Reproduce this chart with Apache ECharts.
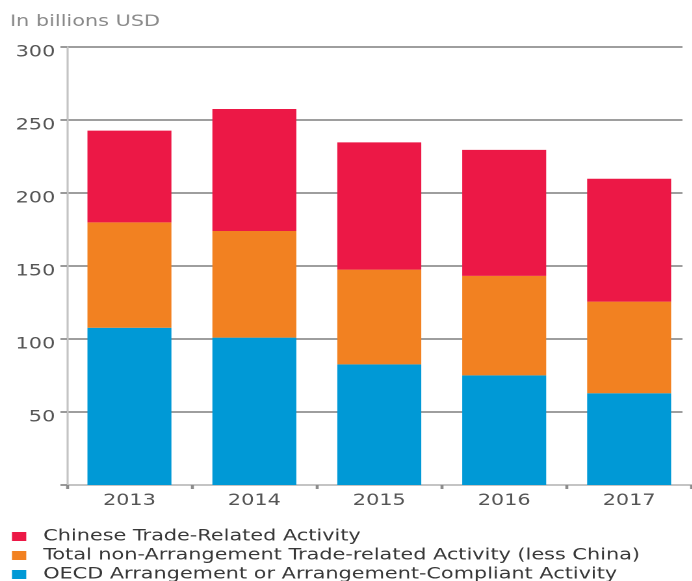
<!DOCTYPE html>
<html>
<head>
<meta charset="utf-8">
<script src="https://cdn.jsdelivr.net/npm/echarts@6/dist/echarts.min.js"></script>
<style>
  html, body { margin: 0; padding: 0; background: #fff; overflow: hidden; }
  /* the source artwork is stretched sideways, so draw narrower and widen it */
  #main { width: 532.3px; height: 620px; transform: scaleX(1.3); transform-origin: 0 0; }
</style>
</head>
<body>
<div id="main"></div>
<script>
// data, billions USD
var years = ['2013', '2014', '2015', '2016', '2017'];
var oecdCompliant = [107.7, 100.9, 82.6, 75.1, 62.8];
var nonArrangement = [72.2, 73.1, 64.9, 68.1, 62.8];
var chineseTrade = [62.8, 83.5, 87.2, 86.3, 84.2];
var yTicks = [0, 50, 100, 150, 200, 250, 300];

var FONT = 'DejaVu Sans';

var myChart = echarts.init(document.getElementById('main'), null, { devicePixelRatio: 2 });

var option = {
  animation: false,
  title: {
    text: 'In billions USD',
    left: 7.7,
    top: 14,
    padding: 0,
    textStyle: { fontFamily: FONT, fontSize: 16, fontWeight: 'normal', color: '#8a8a8a' }
  },
  legend: {
    orient: 'vertical',
    left: 9.2,
    top: 528,
    padding: 0,
    itemGap: 2,
    itemWidth: 11,
    itemHeight: 9,
    icon: 'rect',
    data: ['Chinese Trade-Related Activity',
           'Total non-Arrangement Trade-related Activity (less China)',
           'OECD Arrangement or Arrangement-Compliant Activity'],
    textStyle: { fontFamily: FONT, fontSize: 16, lineHeight: 17, color: '#383838', padding: [0, 0, 0, 8] }
  },
  grid: { left: 51.5, top: 47, bottom: 135, width: 483.1 },
  // gridlines stop a little short of the right edge in the original
  graphic: [{
    type: 'rect', right: 0, top: 40, z: 100,
    shape: { width: 7, height: 440 },
    style: { fill: '#fff' }
  }],
  xAxis: {
    type: 'category',
    data: years,
    axisLine: { lineStyle: { color: '#c4c4c4', width: 2 } },
    axisTick: { show: true, length: 4, lineStyle: { color: '#8c8c8c', width: 2.3 } },
    axisLabel: { fontFamily: FONT, fontSize: 16, color: '#555', margin: 8 }
  },
  yAxis: {
    type: 'value',
    min: yTicks[0],
    max: yTicks[yTicks.length - 1],
    interval: 50,
    axisLine: { show: true, lineStyle: { color: '#c4c4c4', width: 1.6 } },
    axisTick: { show: true, length: 5, lineStyle: { color: '#9a9a9a', width: 2 } },
    axisLabel: {
      fontFamily: FONT, fontSize: 16, color: '#555', margin: 9,
      verticalAlign: 'top', lineHeight: 11,
      formatter: function (v) { return v === 0 ? '' : v; }
    },
    splitLine: { lineStyle: { color: '#9e9e9e', width: 2 } }
  },
  series: [
    {
      name: 'OECD Arrangement or Arrangement-Compliant Activity',
      type: 'bar', stack: 'total', barWidth: 64.6,
      itemStyle: { color: '#0099d6' },
      data: oecdCompliant
    },
    {
      name: 'Total non-Arrangement Trade-related Activity (less China)',
      type: 'bar', stack: 'total', barWidth: 64.6,
      itemStyle: { color: '#f28121' },
      data: nonArrangement
    },
    {
      name: 'Chinese Trade-Related Activity',
      type: 'bar', stack: 'total', barWidth: 64.6,
      itemStyle: { color: '#ec1846' },
      data: chineseTrade
    }
  ]
};

myChart.setOption(option);
</script>
</body>
</html>
